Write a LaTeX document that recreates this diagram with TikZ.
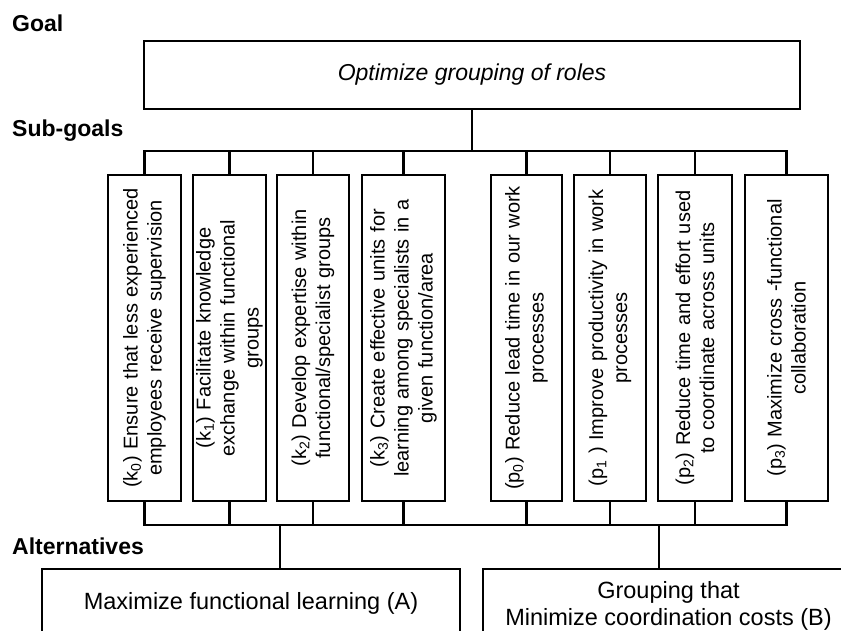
\documentclass[tikz,border=0pt]{standalone}
\usepackage{fontspec}
\setmainfont{Liberation Sans}
\usetikzlibrary{calc}
\begin{document}
\begin{tikzpicture}[x=1pt,y=-1pt,
  lab/.style={font=\fontsize{23}{27}\selectfont\bfseries, anchor=base west, inner sep=0pt},
  box/.style={draw, line width=2.9pt, inner sep=0pt},
  vbox/.style={box, minimum width=#1, minimum height=326pt},
  vtext/.style={rotate=90, text width=320pt, align=center, font=\fontsize{20}{24}\selectfont, inner sep=0pt},
  conn/.style={line width=2.1pt},
]
\useasboundingbox (0,0) rectangle (841,631);
\clip (0,0) rectangle (841,631);

% labels
\node[lab] (lgoal) at (12,32) {Goal};
\node[lab] (lsub) at (12,137) {Sub-goals};
\node[lab] (lalt) at (12,554) {Alternatives};

% goal
\node[box, minimum width=656pt, minimum height=68pt, font=\fontsize{23}{27}\selectfont\itshape] (goal) at (472,75) {Optimize grouping of roles};

% sub-goal boxes
\node[vbox=73pt] (k0) at (144.5,338) {};
\node[vbox=73pt] (k1) at (229.5,338) {};
\node[vbox=72pt] (k2) at (313,338) {};
\node[vbox=83pt] (k3) at (403.5,338) {};
\node[vbox=71pt] (p0) at (526.5,338) {};
\node[vbox=72pt] (p1) at (610,338) {};
\node[vbox=74pt] (p2) at (695,338) {};
\node[vbox=83pt] (p3) at (786.5,338) {};

\node[vtext] (tk0) at (k0) {(k\textsubscript{0}) Ensure that less experienced\\employees receive supervision};
\node[vtext] (tk1) at (k1) {(k\textsubscript{1}) Facilitate knowledge\\exchange within functional\\groups};
\node[vtext] (tk2) at (k2) {(k\textsubscript{2}) Develop expertise within\\functional/specialist groups};
\node[vtext] (tk3) at (k3) {(k\textsubscript{3}) Create effective units for\\learning among specialists in a\\given function/area};
\node[vtext] (tp0) at (p0) {(p\textsubscript{0}) Reduce lead time in our work\\processes};
\node[vtext] (tp1) at (p1) {(p\textsubscript{1} ) Improve productivity in work\\processes};
\node[vtext] (tp2) at (p2) {(p\textsubscript{2}) Reduce time and effort used\\to coordinate across units};
\node[vtext] (tp3) at (p3) {(p\textsubscript{3}) Maximize cross -functional\\collaboration};

% alternatives
\node[box, minimum width=418pt, minimum height=68pt, font=\fontsize{23.5}{27}\selectfont] (altA) at (251,603) {Maximize functional learning (A)};
\node[box, minimum width=370pt, minimum height=68pt, align=center, font=\fontsize{23.5}{26.5}\selectfont] (altB) at (668,603) {};
\node[align=center, font=\fontsize{23.5}{26.5}\selectfont, inner sep=0pt] (tB) at (668.5,606) {Grouping that\\Minimize coordination costs (B)};

% connectors
\coordinate (tb) at (0,151);
\coordinate (bb) at (0,525);
\draw[conn] (goal.south) -- (goal.south |- tb);
\draw[conn] (k0.north) |- (p3.north |- tb) -- (p3.north);
\draw[conn] (k0.south) |- (p3.south |- bb) -- (p3.south);
\foreach \n in {k1,k2,k3,p0,p1,p2} {
  \draw[conn] (\n.north) -- (\n.north |- tb);
  \draw[conn] (\n.south) -- (\n.south |- bb);
}
\coordinate (ja) at (280,525);
\coordinate (jb) at (659,525);
\draw[conn] (ja) -- (ja |- altA.north);
\draw[conn] (jb) -- (jb |- altB.north);
\end{tikzpicture}
\end{document}
